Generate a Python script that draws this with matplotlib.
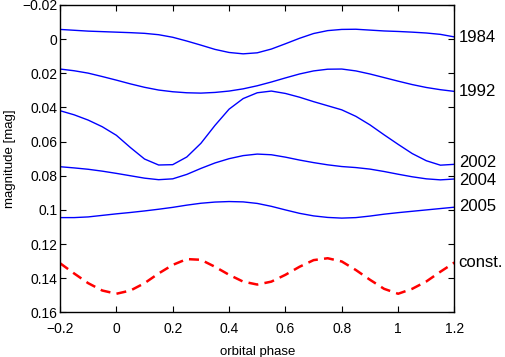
import matplotlib
matplotlib.use("Agg")
import matplotlib.pyplot as plt

plt.rcParams['font.family'] = ['Liberation Sans', 'DejaVu Sans']

# orbital phase, step 0.05 from -0.2 to 1.2
phase = [-0.2, -0.15, -0.1, -0.05, 0.0, 0.05, 0.1, 0.15, 0.2, 0.25, 0.3, 0.35, 0.4, 0.45,
         0.5, 0.55, 0.6, 0.65, 0.7, 0.75, 0.8, 0.85, 0.9, 0.95, 1.0, 1.05, 1.1, 1.15, 1.2]

mag_1984 = [-0.0057, -0.0052, -0.0047, -0.0044, -0.0041, -0.0038, -0.0034, -0.0026, -0.0011,
            0.0011, 0.0035, 0.0060, 0.0078, 0.0086, 0.0080, 0.0058, 0.0027, -0.0005, -0.0033,
            -0.0050, -0.0057, -0.0058, -0.0053, -0.0048, -0.0045, -0.0041, -0.0036, -0.0028, -0.0013]
mag_1992 = [0.0175, 0.0185, 0.0199, 0.0219, 0.0240, 0.0262, 0.0282, 0.0298, 0.0308, 0.0314,
            0.0316, 0.0312, 0.0304, 0.0291, 0.0273, 0.0251, 0.0227, 0.0204, 0.0186, 0.0176,
            0.0175, 0.0186, 0.0204, 0.0225, 0.0246, 0.0266, 0.0283, 0.0296, 0.0306]
mag_2002 = [0.0419, 0.0443, 0.0474, 0.0513, 0.0563, 0.0635, 0.0702, 0.0737, 0.0735, 0.0690,
            0.0610, 0.0505, 0.0410, 0.0348, 0.0314, 0.0304, 0.0318, 0.0340, 0.0366, 0.0390,
            0.0414, 0.0452, 0.0502, 0.0560, 0.0616, 0.0670, 0.0712, 0.0738, 0.0733]
mag_2004 = [0.0747, 0.0754, 0.0762, 0.0773, 0.0786, 0.0800, 0.0814, 0.0823, 0.0818, 0.0792,
            0.0757, 0.0725, 0.0700, 0.0682, 0.0673, 0.0677, 0.0691, 0.0708, 0.0723, 0.0736,
            0.0746, 0.0752, 0.0761, 0.0775, 0.0791, 0.0806, 0.0818, 0.0824, 0.0819]
mag_2005 = [0.1045, 0.1045, 0.1041, 0.1032, 0.1023, 0.1015, 0.1006, 0.0996, 0.0985, 0.0972,
            0.0961, 0.0954, 0.0951, 0.0953, 0.0962, 0.0979, 0.1000, 0.1020, 0.1035, 0.1044,
            0.1048, 0.1045, 0.1036, 0.1025, 0.1016, 0.1008, 0.1000, 0.0992, 0.0984]
mag_const = [0.1312, 0.1372, 0.1429, 0.1472, 0.1491, 0.1472, 0.1429, 0.1372, 0.1322, 0.1288,
             0.1292, 0.1333, 0.1380, 0.1420, 0.1437, 0.1420, 0.1380, 0.1333, 0.1294, 0.1283,
             0.1302, 0.1352, 0.1409, 0.1462, 0.1491, 0.1462, 0.1419, 0.1362, 0.1308]

labels = ['1984', '1992', '2002', '2004', '2005', 'const.']
label_y = [-0.0012, 0.0304, 0.0725, 0.0830, 0.0980, 0.1310]

xticks = [-0.2, 0, 0.2, 0.4, 0.6, 0.8, 1, 1.2]
xticklabels = ['\u22120.2', '0', '0.2', '0.4', '0.6', '0.8', '1', '1.2']
yticks = [-0.02, 0, 0.02, 0.04, 0.06, 0.08, 0.1, 0.12, 0.14, 0.16]
yticklabels = ['\u22120.02', '0', '0.02', '0.04', '0.06', '0.08', '0.1', '0.12', '0.14', '0.16']

fig = plt.figure(figsize=(5.06, 3.57), dpi=100)
ax = fig.add_axes([0.1186, 0.125, 0.7796, 0.861])

for m in [mag_1984, mag_1992, mag_2002, mag_2004, mag_2005]:
    ax.plot(phase, m, color='#0000ff', lw=1.0, solid_joinstyle='round')
ax.plot(phase, mag_const, color='#ff0000', lw=1.8, ls=(0, (4, 2.5)))

ax.set_xlim(-0.2, 1.2)
ax.set_ylim(0.16, -0.02)  # magnitudes, brighter up
ax.set_xticks(xticks)
ax.set_xticklabels(xticklabels)
ax.set_yticks(yticks)
ax.set_yticklabels(yticklabels)
ax.tick_params(direction='in', top=True, right=True, length=4, width=0.8, labelsize=10)
ax.tick_params(axis='x', pad=7)
ax.tick_params(axis='y', pad=2)
for s in ax.spines.values():
    s.set_linewidth(1.0)

for lab, y in zip(labels, label_y):
    ax.text(1.2 + 0.015, y, lab, fontsize=12, va='center', ha='left', clip_on=False)

ax.set_xlabel('orbital phase', fontsize=9.5, labelpad=7)
ax.set_ylabel('magnitude [mag]', fontsize=9.5, labelpad=4)

fig.savefig('out.png', dpi=100)
